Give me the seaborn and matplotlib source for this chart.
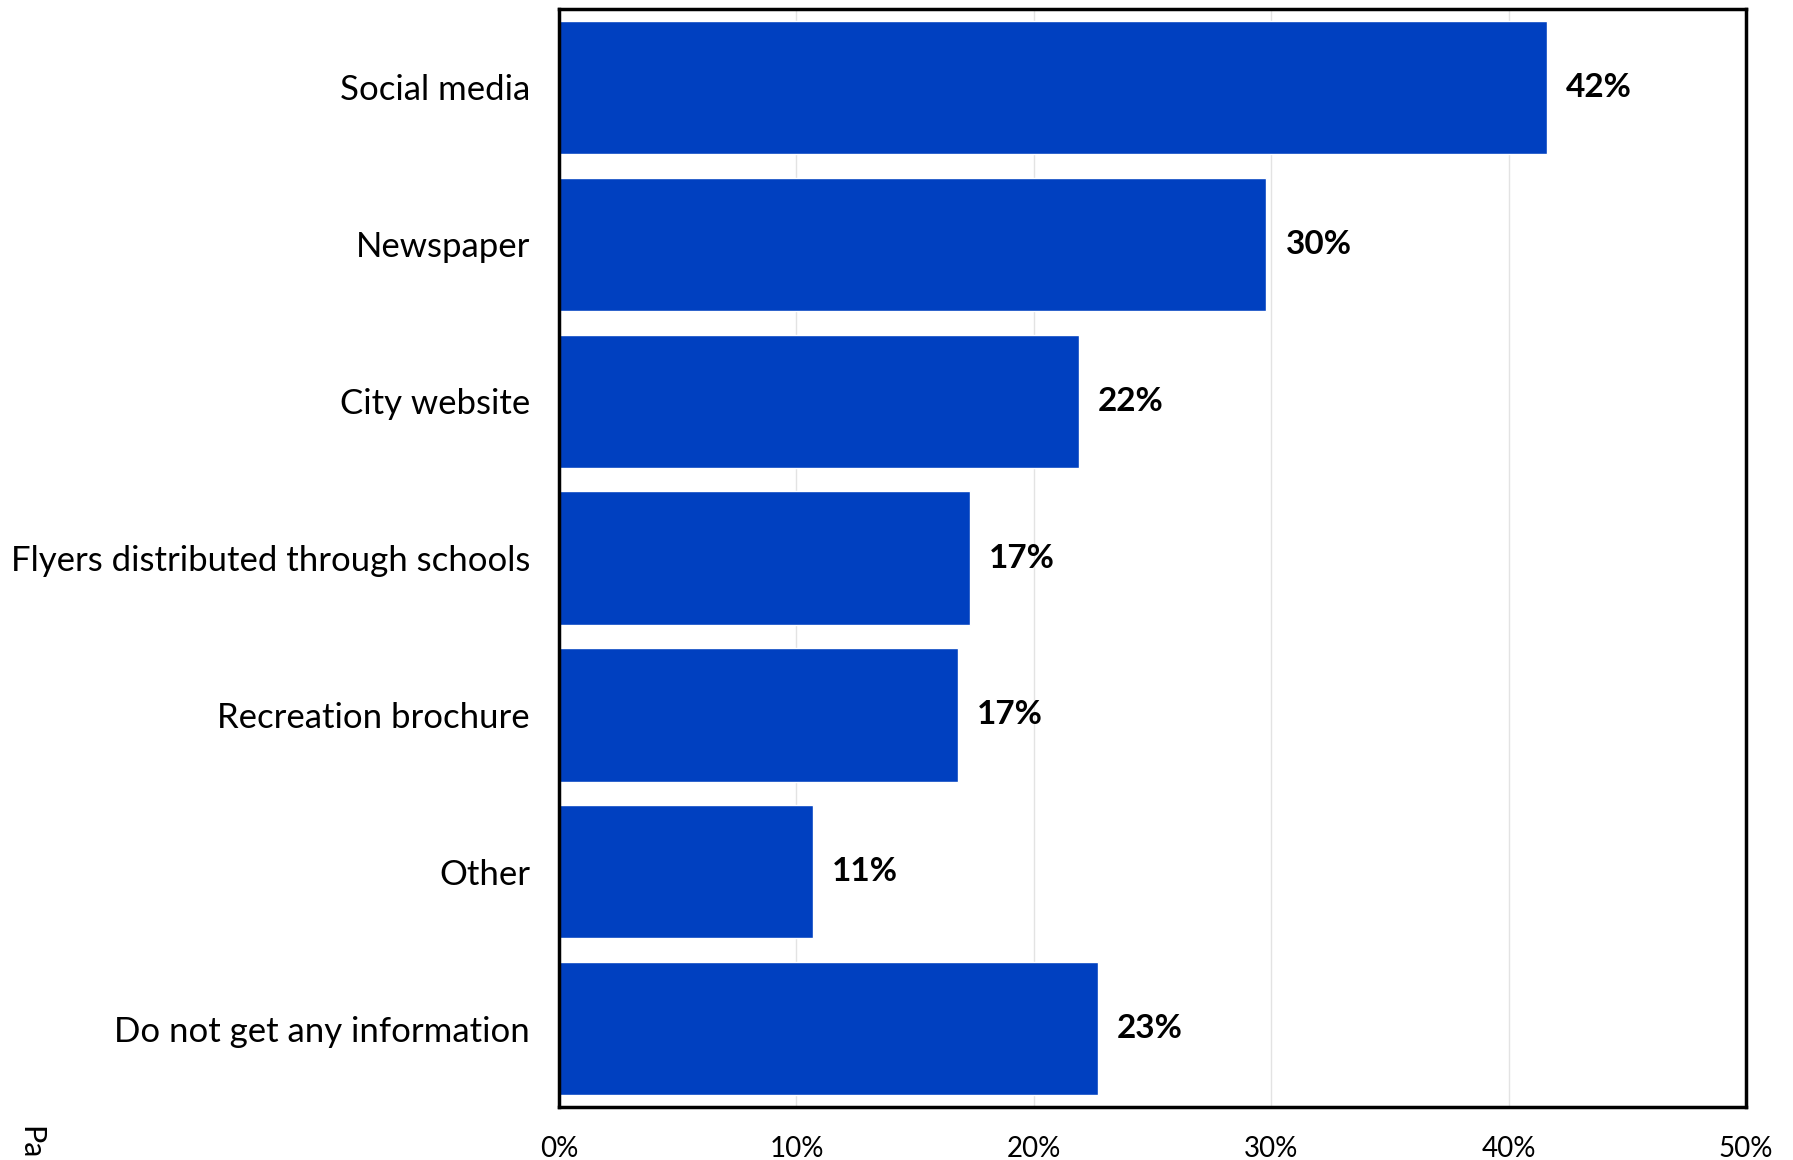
import matplotlib
matplotlib.use('Agg')
import matplotlib.pyplot as plt
import seaborn as sns
import pandas as pd

categories = ["Social media", "Newspaper", "City website",
              "Flyers distributed through schools", "Recreation brochure",
              "Other", "Do not get any information"]
values = [41.6, 29.8, 21.9, 17.3, 16.8, 10.7, 22.7]
labels = ["42%", "30%", "22%", "17%", "17%", "11%", "23%"]
xticks = [0, 10, 20, 30, 40, 50]

sns.set_style("white")
plt.rcParams['font.family'] = ['Lato', 'DejaVu Sans']

df = pd.DataFrame({"source": categories, "pct": values})

fig = plt.figure(figsize=(17.93, 11.6), dpi=100)
ax = fig.add_axes([0.3118, 0.0457, 0.662, 0.9465])
sns.barplot(data=df, x="pct", y="source", orient="h", color="#0040C0",
            saturation=1, width=0.85, ax=ax, zorder=3)

ax.set_xlim(0, 50)
ax.set_ylim(6.5, -0.5)
ax.set_xticks(xticks)
ax.set_xticklabels([f"{t}%" for t in xticks])
ax.grid(axis="x", color="#e3e3e3", linewidth=1, zorder=0)
ax.set_axisbelow(True)
ax.set_xlabel("")
ax.set_ylabel("")
for s in ax.spines.values():
    s.set_visible(True)
    s.set_color("black")
    s.set_linewidth(2.5)
    s.set_zorder(6)
ax.tick_params(axis="both", length=0, colors="black")
ax.tick_params(axis="x", pad=21, labelsize=20)
ax.tick_params(axis="y", pad=21, labelsize=25)

for i, (v, lab) in enumerate(zip(values, labels)):
    ax.text(v + 0.8, i, lab, va="center", ha="left", fontsize=24,
            fontweight="bold", color="black")

# cut-off label at the lower-left corner of the original
fig.text(0.017, 0.0295, "Pa", rotation=270, ha="center", va="top",
         fontsize=22, color="black")

fig.savefig("out.png", dpi=100)
plt.close()
